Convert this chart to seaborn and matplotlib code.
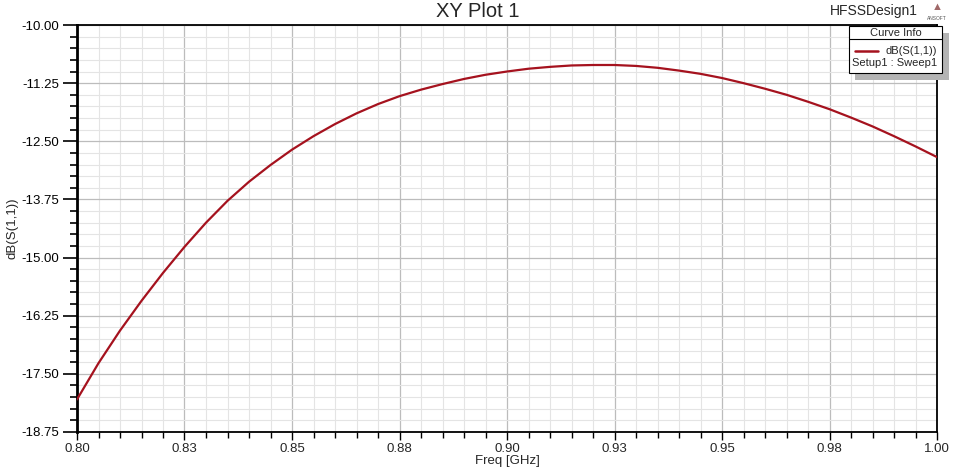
import numpy as np
import pandas as pd
import matplotlib
matplotlib.use("Agg")
import matplotlib.pyplot as plt
import seaborn as sns
from matplotlib.ticker import MultipleLocator, FixedLocator
from matplotlib.patches import Rectangle
from matplotlib.lines import Line2D

# Values (every 5 MHz)
freq_ghz = [0.800, 0.805, 0.810, 0.815, 0.820, 0.825, 0.830, 0.835, 0.840, 0.845,
            0.850, 0.855, 0.860, 0.865, 0.870, 0.875, 0.880, 0.885, 0.890, 0.895,
            0.900, 0.905, 0.910, 0.915, 0.920, 0.925, 0.930, 0.935, 0.940, 0.945,
            0.950, 0.955, 0.960, 0.965, 0.970, 0.975, 0.980, 0.985, 0.990, 0.995,
            1.000]
s11_db = [-18.05, -17.27, -16.57, -15.93, -15.33, -14.77, -14.25, -13.78, -13.37, -13.01,
          -12.68, -12.39, -12.13, -11.90, -11.70, -11.53, -11.39, -11.27, -11.16, -11.07,
          -11.00, -10.94, -10.90, -10.87, -10.86, -10.86, -10.88, -10.92, -10.98, -11.05,
          -11.14, -11.25, -11.37, -11.50, -11.65, -11.81, -11.99, -12.18, -12.39, -12.61,
          -12.84]

x_ticks = [0.80, 0.825, 0.85, 0.875, 0.90, 0.925, 0.95, 0.975, 1.00]
x_tick_labels = ["0.80", "0.83", "0.85", "0.88", "0.90", "0.93", "0.95", "0.98", "1.00"]
y_ticks = [-10.00, -11.25, -12.50, -13.75, -15.00, -16.25, -17.50, -18.75]
y_tick_labels = ["-10.00", "-11.25", "-12.50", "-13.75", "-15.00", "-16.25", "-17.50", "-18.75"]

df = pd.DataFrame({"Freq [GHz]": freq_ghz, "dB(S(1,1))": s11_db})

sns.set_style("white")
plt.rcParams['font.family'] = ['Liberation Sans', 'DejaVu Sans']

fig = plt.figure(figsize=(9.57, 4.67), dpi=100)
ax = fig.add_axes([77 / 957, 1 - 432 / 467, 860 / 957, 407 / 467])

curve_color = "#a5121e"
sns.lineplot(data=df, x="Freq [GHz]", y="dB(S(1,1))", ax=ax, color=curve_color,
             linewidth=1.6, zorder=5)

ax.set_xlim(0.80, 1.00)
ax.set_ylim(-18.75, -10.00)
ax.xaxis.set_major_locator(FixedLocator(x_ticks))
ax.set_xticklabels(x_tick_labels)
ax.yaxis.set_major_locator(FixedLocator(y_ticks))
ax.set_yticklabels(y_tick_labels)
ax.xaxis.set_minor_locator(MultipleLocator(0.005))
ax.yaxis.set_minor_locator(MultipleLocator(0.25))

ax.grid(which="major", color="#bcbcbc", linewidth=0.9)
ax.grid(which="minor", color="#e4e4e4", linewidth=0.8)
ax.set_axisbelow(True)

ax.tick_params(axis="y", which="major", direction="out", length=10, width=1.2,
               labelsize=9.5, pad=3, colors="black")
ax.tick_params(axis="y", which="minor", direction="out", length=5, width=1.2)
ax.tick_params(axis="x", which="major", direction="out", length=6, width=1,
               labelsize=9.5, pad=2)
ax.tick_params(axis="x", which="minor", direction="out", length=4, width=1)
ax.tick_params(which="both", left=True, bottom=True, color="black")

for side in ["top", "right", "bottom"]:
    ax.spines[side].set_color("black")
    ax.spines[side].set_linewidth(1.3)
ax.spines["left"].set_color("black")
ax.spines["left"].set_linewidth(2)

ax.set_xlabel("Freq [GHz]", fontsize=9.5, labelpad=0)
ax.set_ylabel("dB(S(1,1))", fontsize=9.5, labelpad=2)

fig.text(0.4995, 0.976, "XY Plot 1", ha="center", va="center", fontsize=14.5)
fig.text(0.913, 0.976, "HFSSDesign1", ha="center", va="center", fontsize=10)
fig.text(0.979, 0.984, "\u25b2", ha="center", va="center", fontsize=8, color="#a06868")
fig.text(0.979, 0.960, "ANSOFT", ha="center", va="center", fontsize=3.5, color="#555555")

# Curve Info box with drop shadow
def px(x, y):
    return x / 957, 1 - y / 467

sx, sy = px(855, 80)
fig.patches.append(Rectangle((sx, sy), 94 / 957, 47 / 467, transform=fig.transFigure,
                             facecolor="#b4b4b4", edgecolor="none", zorder=8))
bx, by = px(849, 73)
fig.patches.append(Rectangle((bx, by), 93 / 957, 47 / 467, transform=fig.transFigure,
                             facecolor="white", edgecolor="black", linewidth=0.8, zorder=9))
fig.lines.append(Line2D([849 / 957, 942 / 957], [1 - 39 / 467, 1 - 39 / 467],
                        transform=fig.transFigure, color="black", linewidth=0.8, zorder=10))
fig.lines.append(Line2D([855 / 957, 878 / 957], [1 - 51 / 467, 1 - 51 / 467],
                        transform=fig.transFigure, color=curve_color, linewidth=1.8, zorder=10))
t = fig.text(895.5 / 957, 1 - 32.5 / 467, "Curve Info", ha="center", va="center", fontsize=8)
t.set_zorder(11)
t = fig.text(937 / 957, 1 - 51 / 467, "dB(S(1,1))", ha="right", va="center", fontsize=8)
t.set_zorder(11)
t = fig.text(937 / 957, 1 - 63.5 / 467, "Setup1 : Sweep1", ha="right", va="center", fontsize=8)
t.set_zorder(11)

fig.savefig("out.png", dpi=100)
